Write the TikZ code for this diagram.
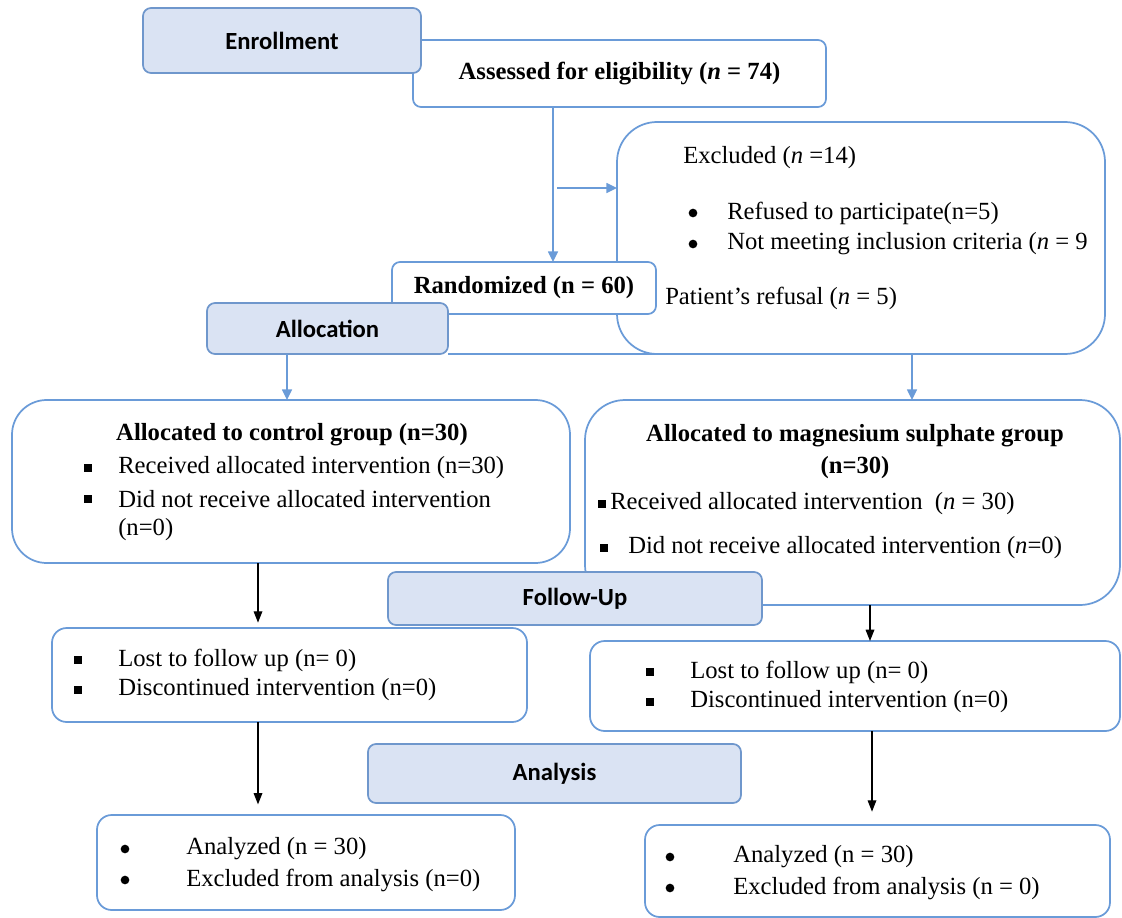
\documentclass[tikz,border=0pt]{standalone}
\usepackage{fontspec}
\setmainfont{Liberation Serif}
\newfontfamily\hdrfont{Carlito}
\usetikzlibrary{arrows.meta}
\definecolor{boxblue}{HTML}{6A9BD8}
\definecolor{hdrfill}{HTML}{DAE3F3}
\definecolor{hdrline}{HTML}{6F97CC}
\newcommand{\bodysize}{\fontsize{18.5}{22}\selectfont}
\tikzset{
  box/.style={draw=boxblue, line width=1.3pt, fill=white, rounded corners=#1, inner sep=0pt, outer sep=0pt},
  box/.default=6pt,
  hdr/.style={draw=hdrline, line width=1.3pt, fill=hdrfill, rounded corners=6pt, inner sep=0pt, outer sep=0pt, font=\hdrfont\bfseries\bodysize},
  txt/.style={anchor=west, inner sep=0pt},
  sq/.style={fill, minimum size=5.5pt, inner sep=0pt},
  dot/.style={circle, fill, minimum size=6.5pt, inner sep=0pt},
  barr/.style={draw=boxblue, line width=1.1pt, -{Triangle[length=8pt,width=7.5pt]}},
  karr/.style={line width=0.9pt, -{Triangle[length=8.5pt,width=6.5pt]}},
}
\begin{document}
\begin{tikzpicture}[x=0.75pt,y=-0.75pt,font=\bodysize]
\useasboundingbox (0,0) rectangle (1122,918);
% enrollment
\node[box, minimum width=309.75pt, minimum height=50.25pt] (assess) at (619.5,73.5) {\textbf{Assessed for eligibility (\textit{n} = 74)}};
\node[hdr, minimum width=208.5pt, minimum height=48.75pt] (enrol) at (282,40.5) {Enrollment};
\node[box=30pt, minimum width=366pt, minimum height=174pt] (excl) at (861,238) {};
\node[txt] (exh) at (683,158) {Excluded (\textit{n} =14)};
\node[dot] (exb1) at (693,213) {}; \node[txt] (ex1) at (727,213) {Refused to participate(n=5)};
\node[dot] (exb2) at (693,244) {}; \node[txt] (ex2) at (727,244) {Not meeting inclusion criteria (\textit{n} = 9};
\node[txt] (ex3) at (665,298) {Patient's refusal (\textit{n} = 5)};
\node[box, minimum width=198pt, minimum height=39pt] (rand) at (524,288) {\textbf{Randomized (n = 60)}};
\coordinate (c1) at (553,0);
\coordinate (c2) at (557,188);
\draw[barr] (assess.south -| c1) -- (rand.north -| c1);
\draw[barr] (c2) -- (c2 -| excl.west);
% allocation
\node[hdr, minimum width=180.75pt, minimum height=38.25pt] (alloc) at (327.5,328.5) {Allocation};
\draw[draw=boxblue, line width=1.3pt] (alloc.south east) -- (excl.south);
\node[box=26pt, minimum width=418.5pt, minimum height=122.25pt] (ctrl) at (291,481.5) {};
\node (ctrlh) at (292,435) {\textbf{Allocated to control group (n=30)}};
\node[sq] (cb1) at (88,468) {}; \node[txt] (c1t) at (118,468) {Received allocated intervention (n=30)};
\node[sq] (cb2) at (88,499) {}; \node[txt] (c2t) at (118,499) {Did not receive allocated intervention};
\node[txt] (c3t) at (118,530) {(n=0)};
\node[box=30pt, minimum width=401.25pt, minimum height=153.75pt] (mag) at (852.5,502.5) {};
\node (magh1) at (855,436) {\textbf{Allocated to magnesium sulphate group}};
\node (magh2) at (855,468) {\textbf{(n=30)}};
\node[sq] (mb1) at (602,504) {}; \node[txt] (m1t) at (610,504) {Received allocated intervention\ \ (\textit{n} = 30)};
\node[sq] (mb2) at (604,548) {}; \node[txt] (m2t) at (628,548) {Did not receive allocated intervention (\textit{n}=0)};
\coordinate (c3) at (287,0);
\coordinate (c4) at (912,0);
\draw[barr] (alloc.south -| c3) -- (ctrl.north -| c3);
\draw[barr] (excl.south -| c4) -- (mag.north -| c4);
% follow-up
\node[hdr, minimum width=280.5pt, minimum height=39.75pt] (follow) at (575,598.5) {Follow-Up};
\node[box=11pt, minimum width=356.25pt, minimum height=70.5pt] (lostL) at (289.5,675) {};
\node[sq] (lb1) at (78,660) {}; \node[txt] (l1t) at (118,660) {Lost to follow up (n= 0)};
\node[sq] (lb2) at (78,690) {}; \node[txt] (l2t) at (118,690) {Discontinued intervention (n=0)};
\node[box=11pt, minimum width=397.5pt, minimum height=67.5pt] (lostR) at (855,686) {};
\node[sq] (rb1) at (650,672) {}; \node[txt] (r1t) at (690,672) {Lost to follow up (n= 0)};
\node[sq] (rb2) at (650,702) {}; \node[txt] (r2t) at (690,702) {Discontinued intervention (n=0)};
\coordinate (c5) at (258,0);
\coordinate (c6) at (870,0);
\draw[karr, shorten >=4pt] (ctrl.south -| c5) -- (lostL.north -| c5);
\draw[karr] (mag.south -| c6) -- (lostR.north -| c6);
% analysis
\node[hdr, minimum width=279.75pt, minimum height=44.25pt] (anaH) at (554.5,773.5) {Analysis};
\node[box=11pt, minimum width=313.5pt, minimum height=71.25pt] (anaL) at (306,862.5) {};
\node[dot] (ab1) at (125,849) {}; \node[txt] (a1t) at (186,849) {Analyzed (n = 30)};
\node[dot] (ab2) at (125,880) {}; \node[txt] (a2t) at (186,880) {Excluded from analysis (n=0)};
\node[box=11pt, minimum width=348.75pt, minimum height=69pt] (anaR) at (877.5,871) {};
\node[dot] (ab3) at (670,857) {}; \node[txt] (a3t) at (733,857) {Analyzed (n = 30)};
\node[dot] (ab4) at (670,888) {}; \node[txt] (a4t) at (733,888) {Excluded from analysis (n = 0)};
\coordinate (c7) at (872,0);
\draw[karr, shorten >=8pt] (lostL.south -| c5) -- (anaL.north -| c5);
\draw[karr, shorten >=10pt] (lostR.south -| c7) -- (anaR.north -| c7);
\end{tikzpicture}
\end{document}
